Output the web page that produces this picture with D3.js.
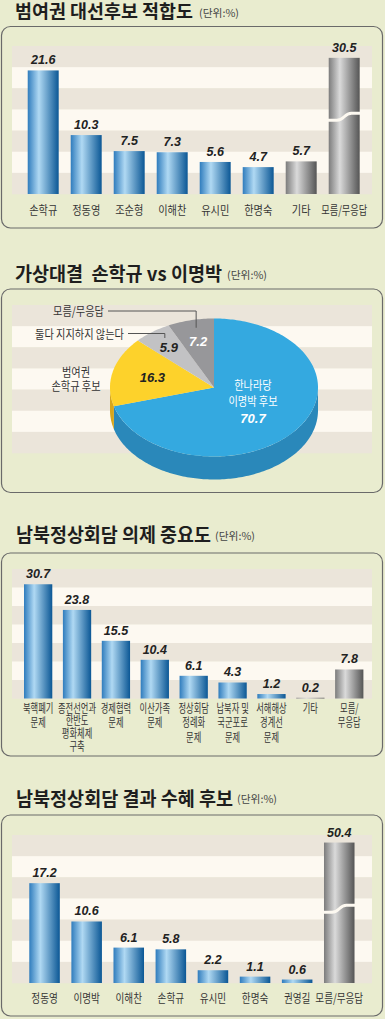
<!DOCTYPE html>
<html><head><meta charset="utf-8">
<script src="https://cdn.jsdelivr.net/npm/d3@7"></script>
<style>
html,body{margin:0;padding:0;background:#e9eccf;}
svg{display:block}
</style></head><body>
<svg id="c" width="385" height="1019"></svg>
<script>
// ---------------- DATA ----------------
const titles = ["범여권 대선후보 적합도", "가상대결  손학규 vs 이명박", "남북정상회담 의제 중요도", "남북정상회담 결과 수혜 후보"];
const unitLabel = "(단위:%)";

const c1Categories = ["손학규","정동영","조순형","이해찬","유시민","한명숙","기타","모름/무응답"];
const c1Values = [21.6,10.3,7.5,7.3,5.6,4.7,5.7,30.5];
const c1Gray = [false,false,false,false,false,false,true,true];

const pieLabels = ["한나라당\n이명박 후보","범여권\n손학규 후보","둘다 지지하지 않는다","모름/무응답"];
const pieValues = [70.7,16.3,5.9,7.2];

const c3Categories = ["북핵폐기\n문제","종전선언과\n한반도\n평화체제\n구축","경제협력\n문제","이산가족\n문제","정상회담\n정례화\n문제","납북자 및\n국군포로\n문제","서해해상\n경계선\n문제","기타","모름/\n무응답"];
const c3Values = [30.7,23.8,15.5,10.4,6.1,4.3,1.2,0.2,7.8];
const c3Gray = [false,false,false,false,false,false,false,true,true];

const c4Categories = ["정동영","이명박","이해찬","손학규","유시민","한명숙","권영길","모름/무응답"];
const c4Values = [17.2,10.6,6.1,5.8,2.2,1.1,0.6,50.4];
const c4Gray = [false,false,false,false,false,false,false,true];

// ---------------- STYLE / LAYOUT ----------------
const BEIGE = "#ebe5da", CREAM = "#fdf9f1";
const KR = "'Noto Sans CJK KR','Noto Sans',sans-serif";
const NUM = "'Liberation Sans',Arial,sans-serif";

const svg = d3.select("#c");
const defs = svg.append("defs");
function grad(id, stops){
  const g = defs.append("linearGradient").attr("id",id).attr("x1","0%").attr("x2","100%").attr("y1","0%").attr("y2","0%");
  stops.forEach(s=>g.append("stop").attr("offset",s[0]).attr("stop-color",s[1]));
}
grad("gBlue", [["0%","#2f7cbd"],["36%","#b0d9f3"],["100%","#0b5795"]]);
grad("gGray", [["0%","#7c7c7c"],["36%","#dadada"],["100%","#555555"]]);

// one text element per label, lines as tspans, horizontally condensed
function multiText(g, x, y, lines, o){
  const t = g.append("text").attr("text-anchor", o.anchor||"middle")
    .attr("font-family",KR).attr("font-size",o.fs||12).attr("fill",o.color||"#353535");
  lines.forEach((ln,j)=>t.append("tspan").attr("x",0).attr("dy", j===0?0:o.lh).text(ln));
  let s = o.scale;
  const w = t.node().getBBox().width;
  if (o.maxW && w*s > o.maxW) s = o.maxW/w;
  t.attr("transform",`translate(${x},${y}) scale(${s},1)`);
  return t;
}

// panels
const panels = [[26.5,228],[289,492.5],[553,756],[815,1016]];
svg.selectAll("rect.panel").data(panels).enter().append("rect")
  .attr("class","panel").attr("x",1.5).attr("y",d=>d[0]).attr("width",381).attr("height",d=>d[1]-d[0])
  .attr("rx",9).attr("fill","#e9eccf").attr("stroke","#6a6a6a").attr("stroke-width",1.2);

// titles
const titleLayout = [
  {x:15,y:17.5,w:178,fs:18,ux:199,uy:16.5},
  {x:15,y:281,w:207,fs:19,ux:227,uy:279},
  {x:16,y:542,w:195,fs:19,ux:215,uy:540},
  {x:16,y:806,w:217,fs:19,ux:237,uy:803}];
titles.forEach((t,i)=>{
  const L = titleLayout[i];
  svg.append("text").attr("x",L.x).attr("y",L.y).text(t)
    .style("white-space","pre").attr("font-family",KR).attr("font-weight","bold")
    .attr("font-size",L.fs).attr("fill","#1e1e1e")
    .attr("textLength",L.w).attr("lengthAdjust","spacingAndGlyphs");
  svg.append("text").attr("x",L.ux).attr("y",L.uy).text(unitLabel)
    .attr("font-family",KR).attr("font-size",10.5).attr("fill","#444")
    .attr("textLength",40).attr("lengthAdjust","spacingAndGlyphs");
});

function stripes(g, top, base){
  const sh = (base-top)/7;
  g.selectAll("rect.stripe").data(d3.range(7)).enter().append("rect")
    .attr("x",12).attr("width",360).attr("y",i=>top+i*sh).attr("height",sh+0.3)
    .attr("fill",i=>i%2===0?BEIGE:CREAM);
}

function barChart(o){
  const g = svg.append("g");
  stripes(g, o.top, o.base);
  const x = d3.scaleBand().domain(d3.range(o.cats.length)).range(o.xr).paddingInner(o.pi).paddingOuter(o.pi/2);
  const y = d3.scaleLinear().domain([0,o.max]).range([o.base,o.top]);
  const disp = v => o.cap ? Math.min(v,o.cap) : v;
  const idx = d3.range(o.cats.length);
  g.selectAll("rect.bar").data(idx).enter().append("rect")
    .attr("x",i=>x(i)).attr("width",x.bandwidth())
    .attr("y",i=>y(disp(o.vals[i]))).attr("height",i=>o.base-y(disp(o.vals[i])))
    .attr("fill",i=>o.gray[i]?"url(#gGray)":"url(#gBlue)");
  // break marks
  idx.filter(i=>o.cap && o.vals[i]>o.cap).forEach(i=>{
    const x0 = x(i)-1, x1 = x(i)+x.bandwidth()+1, w = x1-x0, yc = y(o.brk);
    const yL = yc+3.5, yR = yc-3.5;
    g.append("path").attr("d",`M${x0},${yL} L${x0+w*0.28},${yL} C${x0+w*0.5},${yL} ${x0+w*0.5},${yR} ${x0+w*0.72},${yR} L${x1},${yR}`)
      .attr("fill","none").attr("stroke",CREAM).attr("stroke-width",3);
  });
  // values
  g.selectAll("text.val").data(idx).enter().append("text")
    .attr("x",i=>x(i)+x.bandwidth()/2).attr("y",i=>y(disp(o.vals[i]))-6)
    .attr("text-anchor","middle").attr("font-family",NUM).attr("font-weight","bold").attr("font-style","italic")
    .attr("font-size",12.5).attr("fill","#222").text(i=>o.vals[i].toFixed(1));
  // category labels
  idx.forEach(i=>{
    const lines = o.cats[i].split("\n");
    const lh = lines.length>3 ? 12.8 : 15;
    multiText(g, x(i)+x.bandwidth()/2, o.labelY, lines, {lh, scale:o.cond, maxW:o.maxW});
  });
}

barChart({cats:c1Categories, vals:c1Values, gray:c1Gray, xr:[21.7,365.7], pi:0.28,
  top:46, base:194, max:25.87, cap:23.8, brk:13.5, labelY:214.5, cond:0.85, maxW:46});
barChart({cats:c3Categories, vals:c3Values, gray:c3Gray, xr:[18.7,368.7], pi:0.273,
  top:569, base:698.5, max:34.8, cap:null, brk:null, labelY:712.5, cond:0.69, maxW:41});
barChart({cats:c4Categories, vals:c4Values, gray:c4Gray, xr:[23.5,360.3], pi:0.275,
  top:835, base:983, max:25.5, cap:24.2, brk:12.8, labelY:1002.5, cond:0.8, maxW:55});

// ---------------- PIE ----------------
(function(){
  const g = svg.append("g");
  stripes(g, 305, 453);
  const P = {cx:214, cy:387.5, rx:104, ry:69, depth:23};
  const topColors = ["#34a9e0","#fdd22b","#c2c2c4","#97979a"];
  const sideColors = ["#2a88ba","#d7a61d","#a0a0a2","#767678"];
  const arcs = d3.pie().sort(null).value(d=>d)(pieValues);
  const pt = (a, f=1, dy=0) => [P.cx + P.rx*f*Math.sin(a), P.cy - P.ry*f*Math.cos(a) + dy];
  const samples = (a0,a1,dy) => { const n = Math.max(2, Math.ceil(Math.abs(a1-a0)/0.02)); return d3.range(n+1).map(k=>pt(a0+(a1-a0)*k/n,1,dy)); };
  const line = d3.line();
  arcs.forEach((d,i)=>{
    const s = Math.max(d.startAngle, Math.PI/2), e = Math.min(d.endAngle, 3*Math.PI/2);
    if (e<=s) return;
    g.append("path").attr("d", line(samples(s,e,0).concat(samples(e,s,P.depth)))+"Z").attr("fill",sideColors[i]);
  });
  arcs.forEach((d,i)=>{
    g.append("path").attr("d", line([[P.cx,P.cy]].concat(samples(d.startAngle,d.endAngle,0)))+"Z").attr("fill",topColors[i]);
  });
  const factors = [0.47,0.61,0.73,0.68];
  const valColors = ["#fff","#222","#222","#fff"];
  const lp = arcs.map((d,i)=>pt((d.startAngle+d.endAngle)/2, factors[i]));
  const valText = (x,y,v,c)=>g.append("text").attr("x",x).attr("y",y).attr("text-anchor","middle")
     .attr("font-family",NUM).attr("font-weight","bold").attr("font-style","italic").attr("font-size",13)
     .attr("fill",c).text(v.toFixed(1));
  // blue slice (inside)
  multiText(g, lp[0][0], lp[0][1]-17.5, pieLabels[0].split("\n"), {lh:16, scale:0.85, color:"#fff"});
  valText(lp[0][0], lp[0][1]+15.5, pieValues[0], valColors[0]);
  // yellow slice
  valText(lp[1][0], lp[1][1]+4.5, pieValues[1], valColors[1]);
  multiText(g, 76, 377, pieLabels[1].split("\n"), {lh:14.5, scale:0.85, color:"#333"});
  // light gray
  valText(lp[2][0], lp[2][1]+4.5, pieValues[2], valColors[2]);
  multiText(g, 124, 339, [pieLabels[2]], {lh:0, scale:0.85, color:"#333", anchor:"end"});
  g.append("polyline").attr("points",`128,333.5 ${lp[2][0]-4},333.5 ${lp[2][0]-4},${lp[2][1]-9}`)
    .attr("fill","none").attr("stroke","#555").attr("stroke-width",1);
  // dark gray
  valText(lp[3][0], lp[3][1]+4.5, pieValues[3], valColors[3]);
  multiText(g, 104, 316, [pieLabels[3]], {lh:0, scale:0.85, color:"#333", anchor:"end"});
  g.append("polyline").attr("points",`108,311 ${lp[3][0]-2},311 ${lp[3][0]-2},${lp[3][1]-14}`)
    .attr("fill","none").attr("stroke","#555").attr("stroke-width",1);
})();
</script>
</body></html>
